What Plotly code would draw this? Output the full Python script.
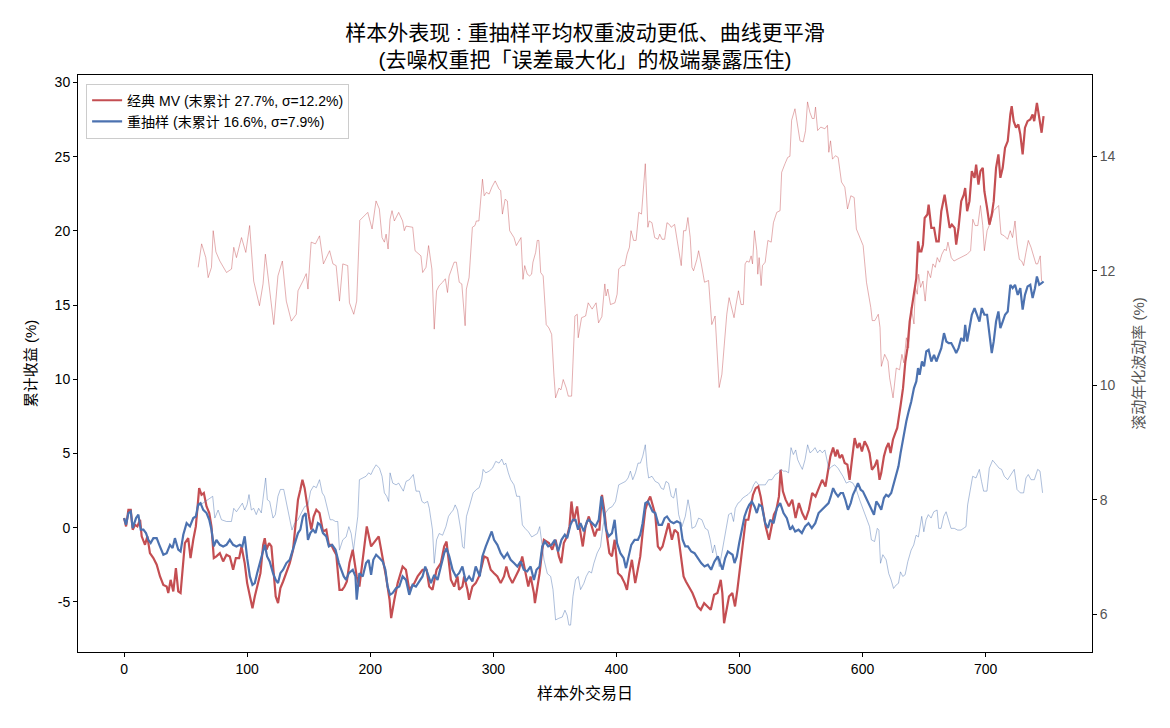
import plotly.graph_objects as go

# ---------------- data ----------------
red_cum_day = [0,1.6,3.5,5.4,7,8.9,10.8,13,14.3,17,18.9,21,23.8,26.5,29.2,31.9,34.6,35.9,37.8,40,42.1,44,45.9,47.5,49.4,52.1,54,56.2,58.3,60.2,61,62.9,64.8,67,69.2,71,72.9,75,77.8,80.5,83.2,85.9,88.6,90.8,93.5,95.4,98,100,102.2,104.3,106.2,108.1,110.8,113,114.3,115.7,117.8,119.7,121.6,123.2,125.1,127,129.2,131.9,134.6,137.3,139.4,141.3,143.2,144.9,146.7,148.1,150.2,152.1,154,156.2,158.8,161.6,164.3,166.4,168.3,170.2,172.4,175,177.2,179.1,181,
               183.1,185.8,189,191.2,197.2,200.7,206.9,210.1,212.8,215.7,217,219.6,222.3,226.3,229,231.7,235.8,238.5,242.5,245.8,247.9,250.6,253.9,257.4,260.1,262,263.6,265.5,268.2,270.9,272.2,274.9,276.3,279,280.3,283,285.7,288.4,290.6,292.5,295.2,297.9,300.6,303.3,306,308.7,310.6,312.8,315.5,318.1,320.8,323.5,326.2,328.4,330.3,333,333.8,335.7,337.6,339.8,341.1,345.2,347.9,350.6,353.3,355.2,357.3,360,361.9,363.5,365.4,368.1,370,372.7,374.9,377.6,
               380.3,382.4,384.3,386.2,388.3,390.5,392.4,394.3,396.4,398.6,401.3,404,406.7,408.6,410.5,412.6,415.3,417.5,419.4,421.3,423.5,425.6,427.5,429.4,431.6,433.7,435.6,437.5,439.7,442.4,445.1,447.3,450,452.7,454.6,456.5,459.1,461.8,464,465.9,468.6,471.3,474,476.7,479.4,482.1,484.8,486.1,487.5,489.4,491.5,494.2,496.4,498.3,501,502.9,505.1,507.2,509.1,511,513.2,515.3,517.2,519.1,521.3,524,526.1,528,530,532.1,533.4,535.3,537.5,540.2,542.9,545.6,548.3,551,553.7,556.4,559.1,561.8,564.5,567.2,569.9,572,573.9,576.1,578,579.6,
               581.4,583.4,585.5,587.7,589.5,591.4,593.6,595.8,597.6,599.5,601.7,603.9,605.7,607.6,609.8,611.9,613.8,615.2,617.4,619.2,621.1,622.8,624.7,626.6,628.2,
               631,632.9,634.8,636.5,638.3,640.2,642.4,643.7,645.1,646.4,647.8,649.1,650.5,652.7,653.7,655.9,658.1,660,661.9,664,666.7,668.9,670.8,672.6,674.8,676.1,678,680.2,682.3,683.4,685,686.9,688.8,691,692.3,694.2,695.8,697.7,699,701.2,703.1,705,706.6,708.5,710.4,712,713.9,715.8,718,720.1,721.2,722.8,724.7,726.6,728.2,730.1,732,734.1,736.3,738.2,739.5,741.7,743.6,745.5,747.1]
red_cum_val = [0.65,0.09,1.21,1.21,-0.13,0.2,0.09,0.54,-0.58,-1.15,-0.58,-1.71,-2.04,-2.49,-3.28,-3.85,-3.96,-4.4,-3.51,-4.29,-2.72,-4.29,-4.4,-2.72,-1.03,-0.7,-2.05,-0.81,0.09,1.89,2.67,2.22,2.34,1.44,0.99,0.09,-2.04,-1.93,-1.71,-2.27,-1.82,-1.93,-2.83,-2.04,-2.04,-1.26,-2.38,-3.73,-4.63,-5.42,-4.63,-3.96,-3.06,-1.15,-0.7,-1.48,-1.03,-1.26,-2.83,-4.63,-5.08,-4.07,-3.62,-2.94,-2.38,-1.48,0.54,1.89,2.56,3.23,2.67,1.77,0.76,-0.13,0.76,1.21,0.99,-0.25,-0.13,-1.15,-1.15,-1.48,-1.82,-4.18,-4.18,-3.96,-3.62,
               -2.38,-1.48,-3.28,-3.96,0.09,-1.26,-0.58,-1.93,-3.28,-4.85,-6.09,-4.85,-3.73,-2.61,-2.83,-4.18,-3.73,-3.28,-2.83,-2.83,-3.96,-4.18,-2.83,-2.38,-1.26,-0.93,-1.93,-3.5,-3.96,-3.28,-4.18,-3.96,-3.28,-4.18,-4.85,-3.96,-3.73,-3.28,-2.61,-1.93,-2.04,-2.83,-3.06,-3.28,-3.73,-3.28,-2.61,-3.28,-3.73,-3.28,-2.83,-1.93,-3.06,-3.96,-3.28,-4.4,-5.08,-4.18,-3.06,-1.48,-0.81,-1.03,-1.48,-0.81,-1.93,-2.38,-1.03,-0.58,0.09,1.77,0.43,1.44,0.09,-1.26,0.09,0.76,
               0.09,-0.58,-0.13,-0.13,2.22,0.99,-0.58,-1.71,-1.93,-0.81,-3.06,-3.28,-3.73,-4.18,-3.06,-2.16,-3.73,-2.61,-1.93,-0.36,1.21,1.77,2.11,1.55,0.88,-1.26,-1.48,-1.26,-0.58,0.31,-0.81,-0.13,-0.36,-2.16,-3.28,-3.62,-3.96,-4.4,-4.85,-5.3,-5.53,-5.08,-5.3,-5.53,-4.52,-4.4,-3.51,-4.4,-6.43,-5.53,-4.63,-4.4,-5.3,-4.18,-2.38,-0.81,0.54,0.54,1.44,2.22,2.67,2.78,2.11,1.1,0.09,-0.81,0.2,0.88,1.21,2.11,3.91,2.45,1.89,1.44,1.89,0.65,1.66,0.99,0.54,1.21,2.34,2.11,2.67,3.23,2.78,3.91,4.81,5.4,4.81,5.26,
               4.7,4.92,4.36,4.25,3.23,4.58,6.04,5.37,5.71,5.14,5.82,5.48,5.03,3.91,4.14,4.58,3.23,3.68,4.81,5.37,5.71,5.03,5.93,6.38,6.72,
               8.28,9.4,11.2,12.1,13.89,15.02,16.37,16.82,19.29,18.62,18.62,19.07,20.87,21.1,21.77,20.2,20.2,19.29,19.29,21.32,22.44,21.1,20.2,20.42,20.2,19.07,20.2,22.0,22.44,22.89,21.32,22.0,24.02,23.57,24.47,23.12,24.02,24.25,22.67,21.54,20.42,21.1,22.0,24.25,25.15,23.57,24.25,25.6,26.05,27.84,28.4,27.39,26.95,27.17,26.5,25.15,26.95,27.39,27.5,27.84,27.39,28.62,27.5,26.61,27.73]

blue_cum_day = [0,1.6,3.5,5.4,7,9.7,11.6,13.5,15.7,17.8,19.7,21.6,23.8,26.5,28.6,31.9,34.6,37.3,39.4,41.3,44,45.9,48.1,50.8,53.5,56.2,58.3,60.2,62.1,64.3,67,69.2,71,72.9,75,77.8,80.5,83.2,85.9,88.6,91.3,94,96.1,98,100,102.2,104.3,106.2,108.1,110.8,113,114.3,116.2,118.3,121,123.2,125.1,127,129.2,131.9,134.6,136.7,139.4,141.3,143.2,145.3,147.5,149.4,151.3,153.5,155.6,157.5,159.4,161.6,164.3,166.4,169.1,171.8,174.5,176.4,178.5,180.4,182.6,
                185.8,188,189,191.2,193.9,196.6,198.7,200.7,202.5,204.8,207.5,210.1,212.3,214.1,216.1,218.2,221,223.6,226.3,229,231.7,234.4,237.1,239.9,242.5,244.7,246.6,249.3,252,254.7,257.4,260.1,262,264.2,266.9,269.6,272.2,274.9,277.6,280.3,283,285.7,289,291.1,293.9,296.6,298.7,300.6,303.3,306,308.7,311.4,314.1,316.8,319.5,322.2,324.8,327.5,330.3,333,335.1,337.6,339.8,341.9,344.6,347.3,350,352.7,355.4,358.1,360,362.7,364.6,366.8,368.9,370.8,373.5,376.2,
                377.5,380.3,383,385.7,387.8,389.8,391.6,393.8,396.4,398.6,400.5,403.2,405.9,407.8,410,412.1,414.8,417.5,419.4,421.3,423.5,425.6,427.5,429.4,431.6,434.3,437,439.2,441.1,443.8,446.5,449.2,451.9,453.8,456,458.1,460.8,463.5,466.2,468.9,471.6,474.3,477,479.7,482.4,484.3,486.2,488.4,490.6,492.5,494.4,496,497.9,499.8,502,504.1,506,507.9,510.1,512.2,514.1,516,518.2,520.9,523.1,525,527.7,530.4,533.1,535.8,538.5,541.2,543.1,545.3,548,550.7,553.4,556.1,558.8,561.6,564.3,567,569.7,572.4,
                574.2,576.1,578,580.1,582.2,584.1,586,588.2,590.4,592.2,594.1,596.3,598.5,600.3,602.3,604.4,607.1,609.3,611.2,613.1,615.2,617.4,619.2,621.1,623.3,625.5,627.3,629.2,630.9,632.8,634.7,
                635.6,637.5,639.6,641.8,643.7,645.1,646.4,648.3,650,651.8,653.7,655.9,658.1,660,661.9,664,666.2,668.1,670,672.1,674.3,676.1,678,680.2,682.3,683.4,685,686.9,688.8,691,693.1,695,696.9,699,701.2,703.1,705,706.6,708.5,710.4,712,713.9,715.8,718,720.1,722,723.9,726.1,728.2,730.1,732,734.1,736.3,738.2,740.1,741.7,743.6,745.5,747.1]
blue_cum_val = [0.65,0.2,0.99,1.1,-0.02,0.65,0.88,-0.13,-0.13,-0.36,-0.81,-1.03,-0.7,-0.7,-1.15,-1.82,-1.71,-1.15,-1.37,-0.7,-1.48,-1.6,-0.47,0.31,0.09,0.65,0.76,1.55,1.66,1.21,0.99,0.54,-0.13,-1.26,-0.81,-1.15,-1.26,-1.15,-0.81,-1.15,-1.26,-1.15,-1.26,-0.58,-2.05,-3.28,-3.85,-3.73,-3.06,-2.27,-1.71,-1.15,-1.93,-2.27,-3.06,-3.51,-3.73,-3.06,-2.83,-2.38,-2.16,-1.6,-1.03,-0.36,-0.13,0.76,0.99,-0.81,-0.36,-0.13,-0.36,0.31,0.2,-0.36,-0.58,-1.26,-1.15,-1.48,-2.38,-2.83,-3.28,-3.51,-3.06,
                -2.83,-3.28,-4.85,-3.06,-3.28,-2.38,-2.16,-3.17,-2.16,-1.82,-2.04,-2.27,-2.83,-3.96,-4.52,-4.4,-4.07,-3.96,-3.28,-3.51,-4.52,-3.85,-3.96,-3.62,-3.28,-2.61,-3.06,-3.73,-3.17,-3.51,-2.61,-1.71,-1.37,-1.93,-2.83,-3.28,-3.06,-2.61,-3.62,-3.28,-3.62,-2.61,-3.28,-1.93,-1.26,-0.7,-0.25,-0.81,-1.15,-1.71,-2.04,-1.71,-2.16,-2.38,-2.61,-2.27,-2.83,-2.94,-2.61,-3.51,-2.83,-2.61,-1.26,-0.93,-1.26,-1.15,-0.81,-1.6,-0.81,-0.47,-0.7,0.2,0.54,0.54,-0.13,0.31,-0.25,0.43,
                0.54,0.31,0.09,0.54,2.11,0.99,-0.13,-0.58,-0.36,0.54,-1.03,-1.71,-2.04,-2.72,-1.93,-1.15,-0.81,-0.81,-0.47,0.31,1.66,1.77,1.44,1.1,0.99,0.2,0.2,0.65,0.76,0.43,0.31,0.43,0.31,-0.81,-1.26,-1.26,-1.6,-1.71,-2.04,-2.38,-2.61,-2.49,-2.83,-2.27,-1.93,-2.38,-2.83,-2.04,-1.6,-1.71,-1.82,-2.38,-1.93,-1.03,-0.13,0.76,1.21,1.55,1.77,1.44,0.99,1.55,1.44,0.31,-0.02,0.54,0.31,1.32,1.66,0.99,0.65,-0.13,0.09,-0.25,-0.13,-0.36,0.09,0.31,-0.02,0.31,0.99,1.21,1.44,1.66,
                2.11,2.67,2.34,2.11,2.34,2.34,1.89,1.21,1.66,2.22,2.56,3.01,2.56,2.45,2.11,1.77,1.32,0.88,1.77,1.55,1.21,2.0,2.22,2.11,2.34,3.01,3.57,4.14,5.03,5.93,6.6,
                7.17,7.84,8.51,9.41,9.86,10.76,10.31,11.2,10.87,11.88,11.99,11.2,11.65,11.2,11.65,12.1,13.11,12.55,12.44,12.44,12.1,11.77,12.1,12.78,12.55,13.67,12.55,13.45,14.35,14.8,14.35,13.89,14.8,14.35,14.35,13.0,11.77,12.55,13.89,14.57,13.45,13.89,14.35,14.57,16.37,16.14,16.37,15.69,16.14,14.69,15.69,16.26,16.37,15.47,16.14,16.93,16.37,16.48,16.59]

red_vol_day = [60.2,61.6,63,66.4,68.3,71,72.4,74.6,77.8,83.2,87.3,89.1,91.3,95.4,98.9,102,105.3,110,112.9,114.8,118.3,121.6,125,128.6,131.8,135.9,139.9,141.3,145.3,148,149.4,152,155.5,158.8,162,167,169.7,172.3,175,177.7,181.7,183.1,186.6,189,191.5,194,198,201.5,204.7,207.4,209.6,211.5,212.9,214.5,216.1,217.7,219.6,223.1,226.3,227.7,229.1,234.5,236.4,241.2,242.6,245.3,247.4,250.1,252,253.9,256,258.8,261,262.8,264.1,268.2,270,272.3,274.4,277.1,278.1,280.3,283,285.1,286.2,288.3,289.9,291.2,292.6,294.4,296.6,298.8,301.5,304.6,306,307.4,309.6,311.4,313.3,316.8,318.7,320.9,322.5,324.1,325.5,327.6,329.5,331.1,332.2,334.4,335.7,337,338.5,340.5,343,345.2,347.4,349.3,350.6,353.3,355,356.8,359.3,360.9,363.6,366.3,368.2,369,371.7,375,377.1,380.3,383.5,385.5,388.2,390.6,391.6,393,395.2,398.8,400.6,401.9,404.6,406.8,408.7,410.6,411.9,414,416,418.2,420.4,423.5,425.6,426.7,428.9,431.1,433.8,435.2,437.1,439.2,441.1,443,444.6,447.3,449.2,451.1,452.7,454.6,456.5,458.1,460,461.4,462.7,465.4,466.8,469,471.6,474.9,477.5,480.2,483.5,485.7,487.8,489.7,491.6,493.7,495.6,497,499.2,501.3,503.2,504.6,506,507.9,509.5,510.6,512.2,514.1,514.9,516,517.6,518.7,520.9,523.1,525.8,527.6,530.3,533,534.3,537,539.2,541,542.4,545.1,547.3,549.2,551.8,553.7,555.3,557.2,559.1,560.7,561.8,563.5,566.1,569.4,571.5,572.6,574,575.6,578,580.2,582.9,585.6,587.8,590.5,593.2,595,600.5,603.2,606.7,607.9,610,612.8,614.2,615.3,618,620.7,622,624.8,627.4,630.1,632,633.6,635.6,637.5,639.6,641.8,642.9,644.5,645.6,647.2,649.1,650.9,653.1,655.3,657.2,659.1,660.7,662.6,664.5,666.7,668,669.4,672.1,674.3,676.9,679.7,682.4,685.1,687.8,689.6,691.5,693.7,695.8,697.7,699,701.2,703.9,706.6,709.3,710.6,712.5,715.2,717.9,720,721.9,723.9,725.5,727.4,729.3,730.9,732.8,734.7,736.9,739,740.9,742.3,744.4,745.5]
red_vol_val = [12.06,12.32,12.47,12.23,11.88,12.06,12.7,12.33,12.17,11.97,12.03,12.41,12.23,12.58,12.32,12.79,11.82,11.39,11.77,12.29,11.65,11.06,11.91,12.17,11.47,11.12,11.24,11.65,11.82,11.95,11.68,12.5,12.47,12.61,12.12,12.35,12.12,12.09,11.47,12.12,12.09,11.44,11.24,11.47,12.88,12.93,13.02,12.73,13.22,13.08,12.58,12.5,12.64,12.38,12.9,13.05,12.87,13.02,12.87,12.7,12.78,12.76,12.35,12.26,11.97,12.06,12.44,12.03,10.98,11.65,11.74,11.8,11.86,11.62,11.91,12.15,12.15,11.8,11.77,11.04,11.68,11.88,12.76,12.79,12.87,12.87,13.31,13.6,13.31,13.37,13.34,13.46,13.57,13.43,13.4,12.99,13.25,13.22,12.7,12.58,12.44,12.53,12.58,11.85,12.09,11.94,11.91,11.94,12.15,12.32,12.53,12.53,11.97,11.91,11.06,11.0,10.89,10.16,9.78,9.95,9.92,10.1,9.95,9.81,9.81,11.21,11.24,10.83,11.18,11.21,11.44,11.33,11.44,11.09,11.2,11.77,11.56,11.68,11.41,11.44,11.59,12.03,12.09,12.09,12.29,12.41,12.7,12.53,12.53,13.02,12.99,13.87,12.76,12.87,12.84,12.58,12.55,12.64,12.55,12.55,12.84,12.81,12.76,12.81,12.53,12.26,12.09,12.7,12.7,12.93,12.58,12.06,12.0,12.2,12.35,12.12,11.8,11.83,11.06,11.21,9.96,10.19,10.77,11.24,11.53,11.36,11.18,11.38,11.65,11.41,11.41,12.12,12.17,12.15,12.26,12.12,12.7,12.35,11.94,12.23,11.74,12.09,12.15,12.53,12.5,12.84,13.02,13.05,13.72,13.87,13.98,14.0,14.63,14.83,14.48,14.27,14.25,14.45,14.95,14.77,14.66,14.66,14.86,14.45,14.51,14.48,14.54,14.07,14.27,13.95,14.01,13.98,13.55,13.46,13.08,13.31,13.28,12.73,12.44,11.8,11.36,11.13,11.13,11.24,11.01,10.33,10.54,10.42,10.13,9.78,10.3,10.27,10.54,10.39,10.83,10.65,11.36,11.07,11.71,11.59,11.94,11.71,11.82,11.47,12.0,11.88,12.12,12.06,12.23,12.15,12.29,12.38,12.35,12.5,12.23,12.17,12.2,12.23,12.26,12.29,12.35,12.9,12.79,12.79,13.14,12.79,12.35,12.7,12.84,13.05,13.11,13.14,12.64,12.61,12.55,12.7,12.58,12.87,12.47,12.2,12.17,12.09,12.32,12.53,12.41,12.23,12.12,12.12,12.26,11.82]

blue_vol_day = [60,72,73.7,76.4,79.1,83.2,87.2,89.1,91.3,94,96.1,98,99.9,101.5,103.4,105.3,107.4,109.3,111.5,112.8,115,116.4,118.3,121,122.9,125,127,129.7,131.8,134.5,136.4,138.6,141.3,144,146.7,149.4,151.5,154,156.2,158.8,161,162.8,165.5,167.4,169.6,171.7,173.6,175,177.7,180.4,182.6,184.5,186.4,188,189.9,191.2,193.9,196.6,198.7,200.6,202.5,204.8,207.5,209.6,211.5,213.4,215,216.1,218.3,221,223.1,225,226.9,229.1,231.8,235,237.2,239.9,242,243.9,246.6,248,249.3,250.6,252,253.9,256,258.8,261.5,263.6,265.5,267.4,269,270.9,273.6,275,276.3,278.2,280.9,283.6,286.3,288.5,290.6,291.7,293.9,296.6,299.3,302,304.7,306.9,308.7,310.1,312.2,314.1,316.8,319,321.4,323.6,325.8,328.5,331.2,333.3,335.8,337.7,339.3,341.2,343.9,346.6,348.5,350.6,353.3,356,358.2,360,361.4,362.8,364.7,366.8,369,370.9,373.6,375.5,377.7,379.8,381.7,384.4,387.1,389,391.2,393.9,396.6,399.3,401.9,404.6,407.4,409.5,411.4,413.3,415.5,417.6,419.5,421.4,423.5,424.9,426.2,428.9,431.6,434.3,436.5,438.4,440.3,442.4,444.6,446.5,448.4,450.6,453.3,456,458.2,460.1,461.4,464.1,466.8,469.5,472.2,474.4,476.3,478.2,479.8,481.7,483.6,485.2,487.1,489,491.2,493.4,495.2,496.6,498.8,500.7,502.6,504.7,506.9,509.6,511.5,513.4,515.6,518.3,521,523.7,526.4,529.1,531.8,533.9,535.8,537.7,539.9,541.9,543.8,545.7,547.3,549.2,551.1,553.3,555.4,557.3,559.2,561.4,563.5,565.4,567.3,569.4,571.6,572.7,574.9,577.4,580.1,584.1,586.8,589.5,592.2,594.9,597.6,600.3,603,605.7,607.2,609.8,612,613.3,614.6,616.5,619.2,621.3,623.2,625.2,627.3,629.2,630.8,632.7,634.6,636.8,639.5,641.6,643.5,645.4,648.1,649.8,651.6,653.5,655.7,657.9,660.6,661.9,663.8,666,667.9,669.8,671.9,674.6,677.3,680,682.7,684.1,685.4,687.6,689.5,692.2,694.9,696.7,698.4,701.1,703,705.7,708.4,711.1,713,715.2,717.9,720.6,723.3,725.5,728.2,730.9,732.8,734.7,736.9,739.6,742.3,744.2,746.3]
blue_vol_val = [7.88,8.06,7.68,7.82,7.65,7.62,7.62,7.85,7.79,7.88,7.94,7.82,7.91,8.09,7.82,7.85,7.74,7.85,7.77,8.0,8.38,8.0,7.97,7.68,7.74,8.06,8.18,8.18,7.94,7.65,7.47,7.59,7.65,7.77,7.88,7.91,8.15,8.24,8.21,8.35,8.12,8.06,7.82,7.65,7.65,7.62,7.62,7.12,7.3,7.35,7.53,7.41,7.12,7.35,7.71,8.35,8.38,8.41,8.47,8.44,8.53,8.61,8.55,8.41,8.12,8.06,7.97,8.47,8.29,8.26,8.29,8.21,8.15,8.32,8.35,8.44,8.15,8.15,7.97,7.94,7.97,7.85,7.65,7.47,6.89,7.3,7.41,7.38,7.53,7.71,7.77,7.82,7.91,7.82,7.47,7.18,7.15,7.71,7.91,8.12,8.18,8.21,8.35,8.53,8.47,8.5,8.55,8.67,8.64,8.71,8.61,8.64,8.47,8.35,8.26,8.06,8.06,7.56,7.5,7.44,7.35,7.38,7.41,7.53,7.24,6.95,6.71,6.66,6.43,5.9,5.93,5.95,6.07,5.98,5.81,5.81,6.31,6.6,6.66,6.43,6.54,6.66,6.75,6.72,6.89,7.07,7.18,7.53,7.77,7.85,7.88,7.97,8.26,8.29,8.32,8.38,8.5,8.35,8.47,8.64,8.64,8.76,8.96,8.58,8.38,8.41,8.32,8.29,8.2,8.18,8.32,8.29,8.06,8.03,8.2,7.74,7.53,7.71,8.0,7.79,7.5,7.53,7.68,7.65,7.5,7.47,7.3,7.07,7.21,7.01,6.83,7.01,7.24,7.53,7.74,7.77,7.62,7.85,7.94,7.97,8.03,8.06,8.09,8.15,8.26,8.32,8.26,8.26,8.26,8.35,8.35,8.44,8.47,8.53,8.5,8.5,8.47,8.91,8.79,8.87,8.7,8.61,8.53,8.7,8.96,8.82,8.85,8.91,8.82,8.87,8.82,8.87,8.67,8.53,8.58,8.61,8.55,8.41,8.29,8.32,8.29,8.18,8.0,7.85,7.71,7.53,7.3,7.27,7.5,7.47,6.89,7.04,6.95,6.71,6.6,6.45,6.51,6.54,6.74,6.66,6.69,6.92,7.12,7.21,7.38,7.35,7.71,7.44,7.65,7.74,7.68,7.79,7.82,7.5,7.5,7.71,7.79,7.65,7.5,7.5,7.47,7.47,7.5,7.53,7.91,8.15,8.41,8.38,8.53,8.32,8.15,8.15,8.55,8.69,8.61,8.55,8.53,8.41,8.35,8.44,8.53,8.18,8.12,8.12,8.38,8.44,8.35,8.35,8.53,8.5,8.12]

x_ticks = [0, 100, 200, 300, 400, 500, 600, 700]
y_ticks = [-5, 0, 5, 10, 15, 20, 25, 30]
y_tick_text = ["-5", "0", "5", "10", "15", "20", "25", "30"]
y2_ticks = [6, 8, 10, 12, 14]

name_red = "经典 MV (末累计 27.7%, σ=12.2%)"
name_blue = "重抽样 (末累计 16.6%, σ=7.9%)"
title_text = "样本外表现 : 重抽样平均权重波动更低、曲线更平滑<br>(去噪权重把「误差最大化」的极端暴露压住)"

RED = "#C44E52"
BLUE = "#4C72B0"
FONT = "Liberation Sans, Arial, Noto Sans CJK SC, sans-serif"

fig = go.Figure()
fig.add_trace(go.Scatter(x=red_cum_day, y=red_cum_val, mode="lines", name=name_red,
                         line=dict(color=RED, width=2.2)))
fig.add_trace(go.Scatter(x=blue_cum_day, y=blue_cum_val, mode="lines", name=name_blue,
                         line=dict(color=BLUE, width=2.2)))
fig.add_trace(go.Scatter(x=red_vol_day, y=red_vol_val, mode="lines", yaxis="y2", showlegend=False,
                         line=dict(color="rgba(196,78,82,0.45)", width=1)))
fig.add_trace(go.Scatter(x=blue_vol_day, y=blue_vol_val, mode="lines", yaxis="y2", showlegend=False,
                         line=dict(color="rgba(76,114,176,0.45)", width=1)))

fig.update_layout(
    width=1170, height=728,
    margin=dict(l=78, r=78, t=75, b=76),
    paper_bgcolor="white", plot_bgcolor="white",
    font=dict(family=FONT, size=14, color="black"),
    title=dict(text=title_text, x=0.5, xanchor="center", y=0.945, yanchor="middle",
               font=dict(family=FONT, size=21, color="black")),
    showlegend=True,
    legend=dict(x=0.008, y=0.985, xanchor="left", yanchor="top", itemwidth=30,
                bgcolor="rgba(255,255,255,0.85)", bordercolor="#CCCCCC", borderwidth=1,
                font=dict(family=FONT, size=14), tracegroupgap=2),
    xaxis=dict(range=[-37.45, 786.45], tickvals=x_ticks, showgrid=False, zeroline=False,
               showline=True, linecolor="black", linewidth=1, mirror=True,
               ticks="outside", ticklen=4, tickcolor="black",
               title=dict(text="样本外交易日", font=dict(size=16), standoff=12)),
    yaxis=dict(range=[-8.37, 30.5], tickvals=y_ticks, ticktext=y_tick_text, showgrid=False, zeroline=False,
               showline=True, linecolor="black", linewidth=1, mirror=True,
               ticks="outside", ticklen=4, tickcolor="black",
               title=dict(text="累计收益 (%)", font=dict(size=15), standoff=14)),
    yaxis2=dict(range=[5.34, 15.42], tickvals=y2_ticks, overlaying="y", side="right",
                showgrid=False, zeroline=False, showline=True, linecolor="black", linewidth=1,
                ticks="outside", ticklen=4, tickcolor="black",
                tickfont=dict(color="#555555", size=14),
                title=dict(text="滚动年化波动率 (%)", font=dict(size=15, color="#555555"), standoff=18)),
)

fig.write_html("out.html")
